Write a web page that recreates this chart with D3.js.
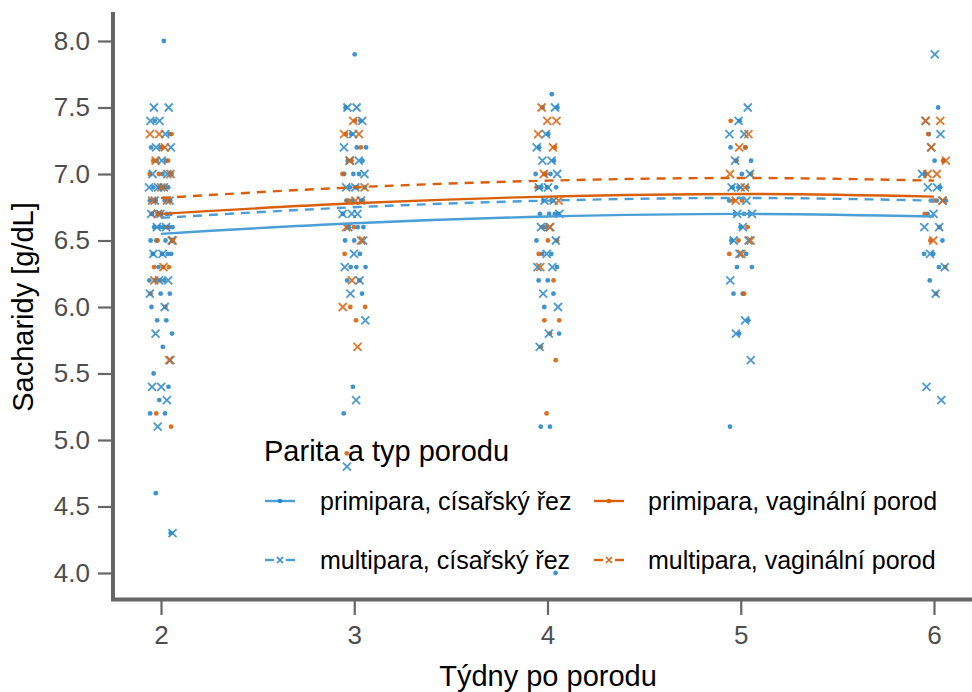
<!DOCTYPE html>
<html>
<head>
<meta charset="utf-8">
<script src="https://cdn.jsdelivr.net/npm/d3@7"></script>
<style>
  html, body { margin: 0; padding: 0; background: #fff; }
  svg { display: block; font-family: "Liberation Sans", Arial, sans-serif; }
</style>
</head>
<body>
<svg id="chart" width="972" height="692"></svg>
<script>
// Weeks after birth shown on the x axis
const weeks = [2, 3, 4, 5, 6];
const yTicks = [4.0, 4.5, 5.0, 5.5, 6.0, 6.5, 7.0, 7.5, 8.0];

// Group labels (legend order, row by row)
const groupNames = [
  "primipara, císařský řez",
  "primipara, vaginální porod",
  "multipara, císařský řez",
  "multipara, vaginální porod"
];

// Individual measurements (g/dL), one list per week for each group
const primiCS = [
  [8.0, 7.4, 7.3, 7.2, 7.2, 7.1, 7.1, 7.0, 7.0, 6.9, 6.9, 6.9, 6.8, 6.8, 6.8, 6.7, 6.7, 6.7, 6.7, 6.7, 6.6, 6.6, 6.6, 6.6, 6.6, 6.5, 6.5, 6.5, 6.4, 6.4, 6.4, 6.4, 6.3, 6.2, 6.2, 6.2, 6.1, 6.1, 6.0, 5.9, 5.9, 5.8, 5.7, 5.5, 5.4, 5.3, 5.2, 5.2, 4.6, 4.3],
  [7.9, 7.5, 7.4, 7.3, 7.2, 7.2, 7.1, 7.1, 7.0, 7.0, 7.0, 6.9, 6.9, 6.9, 6.8, 6.8, 6.8, 6.7, 6.6, 6.6, 6.6, 6.5, 6.5, 6.4, 6.3, 6.3, 6.3, 6.2, 6.1, 5.4, 5.2],
  [7.6, 7.5, 7.5, 7.3, 7.2, 7.1, 7.0, 7.0, 7.0, 6.9, 6.9, 6.9, 6.9, 6.8, 6.8, 6.7, 6.7, 6.7, 6.7, 6.6, 6.5, 6.4, 6.4, 6.3, 6.2, 6.2, 6.1, 6.0, 5.8, 5.1, 5.1, 4.0],
  [7.4, 7.2, 7.2, 7.1, 7.1, 7.0, 6.9, 6.9, 6.9, 6.8, 6.7, 6.7, 6.7, 6.6, 6.5, 6.4, 6.3, 6.3, 6.1, 6.1, 5.9, 5.8, 5.1],
  [7.5, 7.3, 7.1, 7.1, 7.0, 6.9, 6.8, 6.8, 6.8, 6.7, 6.5, 6.4, 6.4, 6.3, 6.2]
];
const primiVag = [
  [7.3, 7.2, 7.1, 7.1, 7.0, 7.0, 6.9, 6.8, 6.8, 6.7, 6.7, 6.6, 6.5, 6.5, 6.3, 6.3, 6.3, 6.2, 6.1, 6.0, 5.2, 5.1],
  [7.4, 7.3, 7.2, 7.1, 7.0, 6.9, 6.8, 6.8, 6.6, 6.4, 6.2, 6.0, 6.0, 5.9, 4.9],
  [7.2, 7.0, 6.9, 6.8, 6.6, 6.5, 6.5, 6.4, 6.2, 5.9, 5.9, 5.8, 5.7, 5.6, 5.2],
  [7.4, 7.2, 7.1, 7.0, 6.8, 6.8, 6.6, 6.5, 6.4, 6.1],
  [7.3, 7.1, 6.8, 6.7, 6.6, 6.5, 6.3, 6.1]
];
const multiCS = [
  [7.5, 7.5, 7.4, 7.4, 7.3, 7.2, 7.2, 7.1, 7.0, 7.0, 6.9, 6.9, 6.9, 6.8, 6.8, 6.7, 6.7, 6.6, 6.6, 6.5, 6.4, 6.4, 6.2, 6.2, 6.1, 6.0, 5.8, 5.6, 5.4, 5.4, 5.3, 5.1, 4.3],
  [7.5, 7.5, 7.4, 7.3, 7.2, 7.1, 7.1, 7.0, 6.9, 6.9, 6.8, 6.7, 6.7, 6.7, 6.6, 6.5, 6.4, 6.3, 6.2, 6.1, 5.9, 5.3, 4.8],
  [7.5, 7.3, 7.2, 7.1, 7.1, 7.0, 6.9, 6.9, 6.8, 6.8, 6.7, 6.6, 6.6, 6.5, 6.4, 6.3, 6.3, 6.1, 6.0, 5.8, 5.7],
  [7.5, 7.4, 7.3, 7.3, 7.1, 7.0, 6.9, 6.9, 6.8, 6.7, 6.7, 6.6, 6.5, 6.5, 6.4, 6.2, 5.9, 5.8, 5.6],
  [7.9, 7.4, 7.3, 7.2, 7.0, 6.9, 6.9, 6.8, 6.7, 6.6, 6.6, 6.4, 6.3, 6.1, 5.4, 5.3]
];
const multiVag = [
  [7.3, 7.3, 7.2, 7.1, 7.0, 6.9, 6.8, 6.8, 6.7, 6.5, 6.3, 6.2, 5.6],
  [7.4, 7.3, 7.3, 7.1, 6.9, 6.8, 6.6, 6.5, 6.2, 6.0, 5.7],
  [7.5, 7.4, 7.4, 7.3, 7.2, 7.0, 6.8, 6.6, 6.3],
  [7.3, 7.2, 7.0, 6.9, 6.8, 6.5, 6.4],
  [7.4, 7.4, 7.2, 7.1, 7.0, 7.0, 6.8, 6.5]
];

// Fitted trend per group at each week
const fitPrimiCS  = [6.55, 6.63, 6.68, 6.70, 6.68];
const fitPrimiVag = [6.70, 6.78, 6.83, 6.85, 6.83];
const fitMultiCS  = [6.67, 6.75, 6.80, 6.82, 6.80];
const fitMultiVag = [6.82, 6.90, 6.95, 6.97, 6.95];

const groupPoints = [primiCS, primiVag, multiCS, multiVag];
const groupFits = [fitPrimiCS, fitPrimiVag, fitMultiCS, fitMultiVag];

const blue = "#2a88c8";
const blueLine = "#4c9fd6";
const orange = "#d9600a";
const groupColor = [blue, orange, blue, orange];
const groupLineColor = [blueLine, orange, blueLine, orange];
const groupShape = ["dot", "dot", "cross", "cross"];
const groupDash = [null, null, "9,7", "9,7"];

const svg = d3.select("#chart");

const x = d3.scaleLinear().domain([2, 6]).range([161, 934]);
const y = d3.scaleLinear().domain([4.0, 8.0]).range([573, 41]);

// Axes
const axisColor = "#666";
const gY = svg.append("g").attr("transform", "translate(113,0)")
  .call(d3.axisLeft(y).tickValues(yTicks).tickFormat(d3.format(".1f")).tickSize(15).tickPadding(8));
const gX = svg.append("g").attr("transform", "translate(0,600)")
  .call(d3.axisBottom(x).tickValues(weeks).tickFormat(d3.format("d")).tickSize(15).tickPadding(11));
[gX, gY].forEach(g => {
  g.select(".domain").remove();
  g.selectAll(".tick line").attr("stroke", axisColor).attr("stroke-width", 2.2);
  g.selectAll(".tick text").attr("fill", "#4d4d4d").attr("font-size", 26)
    .attr("font-family", "Liberation Sans, Arial, sans-serif");
});

// Thick axis lines
svg.append("line").attr("x1", 113).attr("x2", 113).attr("y1", 12).attr("y2", 601)
  .attr("stroke", axisColor).attr("stroke-width", 4);
svg.append("line").attr("x1", 111).attr("x2", 972).attr("y1", 599.5).attr("y2", 599.5)
  .attr("stroke", axisColor).attr("stroke-width", 4);

// Scatter points with deterministic horizontal spread (golden-ratio sequence)
const phi = 0.6180339887;
let k = 0;
const pts = svg.append("g");
groupPoints.forEach((series, gi) => {
  series.forEach((vals, wi) => {
    vals.forEach(v => {
      k += 1;
      const off = (((k * phi) % 1) - 0.5) * 24;
      const cx = x(weeks[wi]) + off;
      const cy = y(v);
      if (groupShape[gi] === "dot") {
        pts.append("circle").attr("cx", cx).attr("cy", cy).attr("r", 2.4)
          .attr("fill", groupColor[gi]).attr("opacity", 0.9);
      } else {
        const s = 4;
        pts.append("path")
          .attr("d", `M${cx - s},${cy - s}L${cx + s},${cy + s}M${cx - s},${cy + s}L${cx + s},${cy - s}`)
          .attr("stroke", groupColor[gi]).attr("stroke-width", 1.8).attr("opacity", 0.85)
          .attr("fill", "none");
      }
    });
  });
});

// Trend lines
const line = d3.line().x((d, i) => x(weeks[i])).y(d => y(d)).curve(d3.curveMonotoneX);
groupFits.forEach((fit, gi) => {
  svg.append("path").attr("d", line(fit)).attr("fill", "none")
    .attr("stroke", groupLineColor[gi]).attr("stroke-width", 2.4)
    .attr("stroke-dasharray", groupDash[gi]);
});

// Legend
const leg = svg.append("g");
leg.append("text").attr("x", 264).attr("y", 461).attr("font-size", 29).attr("fill", "#000")
  .text("Parita a typ porodu");
const legPos = [
  { kx: 265, tx: 320, y: 501 },
  { kx: 594, tx: 648, y: 501 },
  { kx: 265, tx: 320, y: 560 },
  { kx: 594, tx: 648, y: 560 }
];
groupNames.forEach((name, gi) => {
  const p = legPos[gi];
  if (groupDash[gi]) {
    leg.append("line").attr("x1", p.kx).attr("x2", p.kx + 9).attr("y1", p.y).attr("y2", p.y)
      .attr("stroke", groupLineColor[gi]).attr("stroke-width", 2.4);
    leg.append("line").attr("x1", p.kx + 21).attr("x2", p.kx + 30).attr("y1", p.y).attr("y2", p.y)
      .attr("stroke", groupLineColor[gi]).attr("stroke-width", 2.4);
    const cx = p.kx + 15, s = 3;
    leg.append("path")
      .attr("d", `M${cx - s},${p.y - s}L${cx + s},${p.y + s}M${cx - s},${p.y + s}L${cx + s},${p.y - s}`)
      .attr("stroke", groupColor[gi]).attr("stroke-width", 1.5).attr("fill", "none");
  } else {
    leg.append("line").attr("x1", p.kx).attr("x2", p.kx + 30).attr("y1", p.y).attr("y2", p.y)
      .attr("stroke", groupLineColor[gi]).attr("stroke-width", 2.4);
    leg.append("circle").attr("cx", p.kx + 15).attr("cy", p.y).attr("r", 2.3)
      .attr("fill", groupColor[gi]);
  }
  leg.append("text").attr("x", p.tx).attr("y", p.y + 9).attr("font-size", 25).attr("fill", "#000")
    .text(name);
});

// Axis titles
svg.append("text").attr("x", 548).attr("y", 686).attr("text-anchor", "middle")
  .attr("font-size", 29).attr("fill", "#000").text("Týdny po porodu");
svg.append("text").attr("transform", "translate(33,307) rotate(-90)").attr("text-anchor", "middle")
  .attr("font-size", 29).attr("fill", "#000").text("Sacharidy [g/dL]");
</script>
</body>
</html>
